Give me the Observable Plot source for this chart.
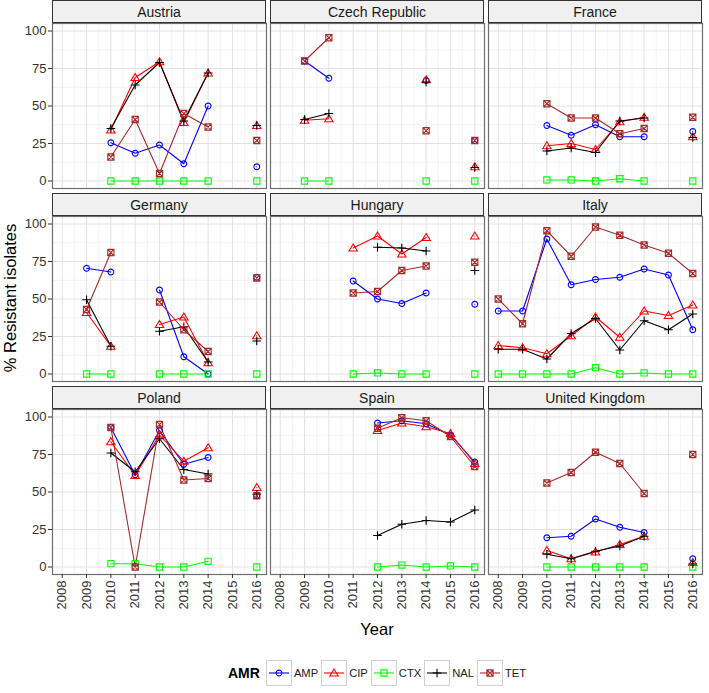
<!DOCTYPE html>
<html><head><meta charset="utf-8">
<script src="https://cdn.jsdelivr.net/npm/d3@7"></script>
<script src="https://cdn.jsdelivr.net/npm/@observablehq/plot@0.6"></script>
<style>
body{margin:0;background:#fff;font-family:"Liberation Sans",Arial,sans-serif;}
#chart{position:relative;width:709px;height:693px;overflow:hidden;}
.strip{position:absolute;background:#F0F0F0;border:1.4px solid #333;box-sizing:border-box;text-align:center;font-size:14px;color:#1a1a1a;line-height:22px;}
.panel{position:absolute;}
.title{position:absolute;font-size:16.5px;color:#000;white-space:nowrap;}
#legend{position:absolute;left:228px;top:660px;height:26px;display:flex;align-items:center;}
#legend .lt{font-weight:bold;font-size:14px;margin-right:6px;}
#legend .key{width:26px;height:26px;box-sizing:border-box;border:1px solid #d0d0d0;background:#fff;}
#legend .lab{font-size:11.2px;color:#1a1a1a;margin:0 3px 0 2px;}
</style></head>
<body><div id="chart"></div>
<script>
const years = [2008, 2009, 2010, 2011, 2012, 2013, 2014, 2015, 2016];
const countries = ["Austria", "Czech Republic", "France", "Germany", "Hungary", "Italy", "Poland", "Spain", "United Kingdom"];
const series = ["AMP", "CIP", "CTX", "NAL", "TET"];
const seriesColors = ["#0000FF", "#FF0000", "#00FF00", "#000000", "#A52A2A"];
const yTicks = [0, 25, 50, 75, 100];

// values per country (rows) per year 2008..2016 (columns); null = missing
const AMP = [
  [null, null, 25.5, 18.5, 24, 11.5, 50, null, 9.5],
  [null, 80, 68.5, null, null, null, 67, null, 27],
  [null, null, 37, 30.5, 37.5, 29.5, 29.5, null, 33],
  [null, 70.5, 68, null, 56, 11.5, 0, null, 64.5],
  [null, null, null, 62, 50, 47, 54, null, 46.5],
  [42, 42, 90, 59.5, 63, 64.5, 70, 66, 29.5],
  [null, null, 93, 61.5, 91, 68.5, 73, null, 47.5],
  [null, null, null, null, 96, 97.5, 95.5, 88, 70],
  [null, null, 19.5, 20.5, 32, 26.5, 23, null, 5.5]
];
const CIP = [
  [null, null, 34, 69, 79.5, 39, 72, null, 37],
  [null, 40.5, 41.5, null, null, null, 67.5, null, 9.5],
  [null, null, 23.5, 25, 21, 39.5, 42.5, null, 29.5],
  [null, 41, 18.5, null, 33, 38, 7.5, null, 25.5],
  [null, null, null, 84, 92, 80, 91, null, 92],
  [19, 17.5, 13.5, 25.5, 38, 24.5, 42, 39, 46],
  [null, null, 83.5, 61, 88, 70.5, 79.5, null, 53],
  [null, null, null, null, 91, 96, 93.5, 89, 69],
  [null, null, 11, 5.5, 10, 15, 20.5, null, 3]
];
const CTX = [
  [null, null, 0, 0, 0, 0, 0, null, 0],
  [null, 0, 0, null, null, null, 0, null, 0],
  [null, null, 0.7, 0.7, 0, 1.5, 0, null, 0],
  [null, 0, 0, null, 0, 0, 0, null, 0],
  [null, null, null, 0, 0.7, 0, 0, null, 0],
  [0, 0, 0, 0, 4.2, 0, 0.7, 0, 0],
  [null, null, 2.2, 2.2, 0, 0, 3.8, null, 0],
  [null, null, null, null, 0, 1.3, 0, 0.7, 0],
  [null, null, 0, 0, 0, 0, 0, null, 0]
];
const NAL = [
  [null, null, 35, 64, 79, 40, 72, null, 37],
  [null, 41, 45, null, null, null, 66, null, 9],
  [null, null, 20, 22, 19, 40, 42, null, 29],
  [null, 49.5, 18.5, null, 28.5, 31.5, 8, null, 22],
  [null, null, null, null, 84.5, 84, 82, null, 69],
  [16.5, 16.5, 10, 27, 37, 16, 35.5, 29.5, 40],
  [null, null, 76, 63.5, 85.5, 65, 62, null, 48.5],
  [null, null, null, null, 21, 28.5, 31, 30, 38],
  [null, null, 8.5, 5.5, 10.5, 14, 20.5, null, 2]
];
const TET = [
  [null, null, 16, 41, 5, 45, 36, null, 27],
  [null, 80, 95.5, null, null, null, 33.5, null, 27],
  [null, null, 51.5, 42, 42, 31.5, 35, null, 42.5],
  [null, 43, 81, null, 48, 29.5, 15, null, 64],
  [null, null, null, 54, 55, 69, 72, null, 74.5],
  [50, 33.5, 95.5, 78.5, 98, 92.5, 86, 80.5, 67],
  [null, null, 93, 0, 95, 58, 59, null, 47.5],
  [null, null, null, null, 92.5, 99.5, 97.5, 87, 67],
  [null, null, 56, 63, 76.5, 69, 49, null, 75]
];
const seriesValues = [AMP, CIP, CTX, NAL, TET];

// custom ggplot-like point shapes
const shapes = [
  {draw(c, size) { const s = Math.sqrt(size / Math.PI); c.moveTo(s, 0); c.arc(0, 0, s, 0, 2 * Math.PI); }},
  {draw(c, size) { const s = Math.sqrt(size / Math.PI); c.moveTo(0, -1.35 * s); c.lineTo(1.4 * s, 1.0 * s); c.lineTo(-1.4 * s, 1.0 * s); c.closePath(); }},
  {draw(c, size) { const s = Math.sqrt(size / Math.PI); c.rect(-s, -s, 2 * s, 2 * s); }},
  {draw(c, size) { const s = Math.sqrt(size / Math.PI) * 1.45; c.moveTo(-s, 0); c.lineTo(s, 0); c.moveTo(0, -s); c.lineTo(0, s); }},
  {draw(c, size) { const s = Math.sqrt(size / Math.PI); c.rect(-s, -s, 2 * s, 2 * s); c.moveTo(-s, -s); c.lineTo(s, s); c.moveTo(s, -s); c.lineTo(-s, s); }}
];
const shapeR = [2.9, 3, 3.1, 3, 3.1];

const rows = [];
countries.forEach((country, ci) => {
  series.forEach((s, si) => {
    years.forEach((year, yi) => {
      const v = seriesValues[si][ci][yi];
      rows.push({country, series: s, year, value: v == null ? NaN : v});
    });
  });
});

const chart = document.getElementById("chart");
const PW = 214, PH = 165, COL0 = 52, COLSTEP = 218, STRIPH = 23;
const stripTops = [0, 193, 386];

countries.forEach((country, ci) => {
  const c = ci % 3, r = Math.floor(ci / 3);
  const left = COL0 + c * COLSTEP, stripTop = stripTops[r], top = stripTop + STRIPH;
  const ml = c === 0 ? 52 : 0, mb = r === 2 ? 46 : 0;
  const data = rows.filter(d => d.country === country);
  const marks = [
    Plot.gridX(d3.range(2008.5, 2016.5, 1), {stroke: "#f0f0f0", strokeOpacity: 1, strokeWidth: 0.8}),
    Plot.gridY(d3.range(12.5, 100, 25), {stroke: "#f0f0f0", strokeOpacity: 1, strokeWidth: 0.8}),
    Plot.gridX(years, {stroke: "#e2e2e2", strokeOpacity: 1, strokeWidth: 1}),
    Plot.gridY(yTicks, {stroke: "#e2e2e2", strokeOpacity: 1, strokeWidth: 1})
  ];
  series.forEach((s, si) => {
    marks.push(Plot.line(data.filter(d => d.series === s), {x: "year", y: "value", stroke: seriesColors[si], strokeWidth: 1.1}));
  });
  series.forEach((s, si) => {
    marks.push(Plot.dot(data.filter(d => d.series === s), {x: "year", y: "value", stroke: seriesColors[si], fill: "none", symbol: shapes[si], r: shapeR[si], strokeWidth: 1.1}));
  });
  marks.push(Plot.frame({stroke: "#6e6e6e", strokeWidth: 1.2}));
  if (c === 0) marks.push(Plot.axisY(yTicks, {tickSize: 4, tickPadding: 2, fontSize: 13, label: null, color: "#333"}));
  if (r === 2) marks.push(Plot.axisX(years, {tickSize: 4, tickPadding: 2, tickRotate: -90, fontSize: 13, label: null, tickFormat: d => String(d), color: "#333"}));
  const xOpt = {domain: [2007.6, 2016.4]};
  const yOpt = {domain: [-5, 105]};
  if (r !== 2) xOpt.axis = null;
  if (c !== 0) yOpt.axis = null;
  const svg = Plot.plot({
    width: PW + ml, height: PH + mb,
    marginLeft: ml, marginRight: 0, marginTop: 0, marginBottom: mb,
    x: xOpt, y: yOpt,
    style: {fontFamily: "Liberation Sans, Arial, sans-serif", fontSize: "13px", color: "#333", background: "transparent", overflow: "visible"},
    marks
  });
  const wrap = document.createElement("div");
  wrap.className = "panel";
  wrap.style.left = (left - ml) + "px";
  wrap.style.top = top + "px";
  wrap.appendChild(svg);
  chart.appendChild(wrap);
  const strip = document.createElement("div");
  strip.className = "strip";
  strip.style.left = left + "px";
  strip.style.top = stripTop + "px";
  strip.style.width = PW + "px";
  strip.style.height = STRIPH + "px";
  strip.textContent = country;
  chart.appendChild(strip);
});

// axis titles
const xt = document.createElement("div");
xt.className = "title";
xt.textContent = "Year";
xt.style.left = "377px"; xt.style.top = "620px"; xt.style.transform = "translateX(-50%)";
chart.appendChild(xt);
const yt = document.createElement("div");
yt.className = "title";
yt.textContent = "% Resistant isolates";
yt.style.left = "10px"; yt.style.top = "298px"; yt.style.transform = "translate(-50%,-50%) rotate(-90deg)";
chart.appendChild(yt);

// legend
const legend = document.createElement("div");
legend.id = "legend";
const lt = document.createElement("span");
lt.className = "lt"; lt.textContent = "AMR";
legend.appendChild(lt);
series.forEach((s, si) => {
  const key = document.createElement("div");
  key.className = "key";
  const ks = d3.create("svg").attr("width", 24).attr("height", 24);
  ks.append("line").attr("x1", 2).attr("x2", 22).attr("y1", 12).attr("y2", 12).attr("stroke", seriesColors[si]).attr("stroke-width", 1.1);
  const p = d3.path(); shapes[si].draw(p, shapeR[si] * shapeR[si] * Math.PI);
  ks.append("path").attr("d", p.toString()).attr("transform", "translate(12,12)").attr("fill", "none").attr("stroke", seriesColors[si]).attr("stroke-width", 1.1);
  key.appendChild(ks.node());
  legend.appendChild(key);
  const lab = document.createElement("span");
  lab.className = "lab"; lab.textContent = s;
  legend.appendChild(lab);
});
chart.appendChild(legend);
</script></body></html>
